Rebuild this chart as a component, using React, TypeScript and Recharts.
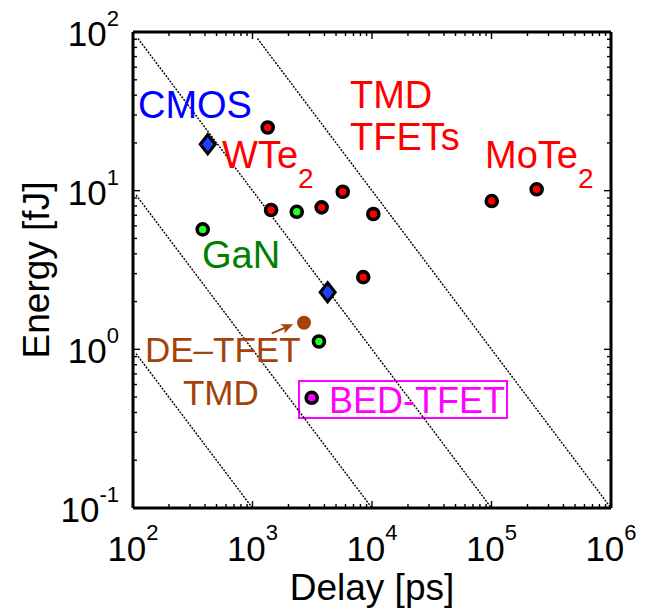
import React from 'react';
import { ScatterChart, Scatter, XAxis, YAxis, ReferenceLine, ReferenceArea } from 'recharts';

const FONT = '"Liberation Sans", Arial, Helvetica, sans-serif';
const W = 655;
const H = 612;

const RED = '#ff0000';
const GREEN_DOT = '#22ff22';
const GREEN_TEXT = '#008000';
const BLUE = '#0000ff';
const BLUE_DIAMOND = '#1f3fff';
const BROWN = '#a3420c';
const MAGENTA = '#ff00ff';

// axis ticks (decades + log minor ticks)
const delayDecades = [100, 1000, 10000, 100000, 1000000];
const energyDecades = [0.1, 1, 10, 100];
const minorMantissas = [2, 3, 4, 5, 6, 7, 8, 9];

// TMD TFETs (WTe2 / MoTe2)
const tmdDelay = [1340, 1430, 3790, 5690, 10260, 8450, 100500, 238700];
const tmdEnergy = [25, 7.55, 7.85, 9.84, 7.13, 2.85, 8.6, 10.2];

// GaN
const ganDelay = [383, 2345, 3597];
const ganEnergy = [5.7, 7.36, 1.12];

// CMOS
const cmosDelay = [422, 4256];
const cmosEnergy = [19.6, 2.29];

// DE-TFET TMD
const deDelay = [2698];
const deEnergy = [1.47];

// BED-TFET
const bedDelay = [3127];
const bedEnergy = [0.495];

// constant energy-delay product guide lines (start / end points)
const edpStartDelay = [106, 106, 110, 1100];
const edpStartEnergy = [0.94, 9.4, 91, 91];
const edpEndDelay = [1000, 10000, 100000, 1000000];
const edpEndEnergy = [0.1, 0.1, 0.1, 0.1];

// text annotations, anchored at left/baseline in data coordinates
const labels = [
  { x: 110, y: 28.6, text: 'CMOS', color: BLUE, size: 38 },
  { x: 556, y: 13.9, text: 'WTe', sub: '2', color: RED, size: 38 },
  { x: 6540, y: 33.1, text: 'TMD', color: RED, size: 38 },
  { x: 6540, y: 18.0, text: 'TFETs', color: RED, size: 38 },
  { x: 88300, y: 13.9, text: 'MoTe', sub: '2', color: RED, size: 38 },
  { x: 378, y: 3.25, text: 'GaN', color: GREEN_TEXT, size: 38 },
  { x: 126, y: 0.832, text: 'DE\u2013TFET', color: BROWN, size: 35 },
  { x: 262, y: 0.446, text: 'TMD', color: BROWN, size: 35 },
  { x: 4365, y: 0.397, text: 'BED-TFET', color: MAGENTA, size: 36 },
];

const zip = (xs: number[], ys: number[]) => xs.map((x, i) => ({ x, y: ys[i] }));

const withMinor = (decades: number[]) => {
  const out: number[] = [];
  decades.forEach((d, i) => {
    out.push(d);
    if (i < decades.length - 1) minorMantissas.forEach((m) => out.push(d * m));
  });
  return out;
};

const delayTicks = withMinor(delayDecades);
const energyTicks = withMinor(energyDecades);

const isMajor = (v: number) => Math.abs(Math.log10(v) - Math.round(Math.log10(v))) < 1e-6;
const expOf = (v: number) => Math.round(Math.log10(v));

const MAJOR = 7;
const MINOR = 4;

function BottomTick({ x, y, payload }: any) {
  const v = payload.value;
  const major = isMajor(v);
  return (
    <g>
      <line x1={x} y1={y} x2={x} y2={y - (major ? MAJOR : MINOR)} stroke="#000" strokeWidth={1.4} />
      {major && (
        <text x={x} y={y + 53} textAnchor="middle" fontFamily={FONT} fontSize={35} fill="#000">
          <tspan>10</tspan>
          <tspan dy={-21} fontSize={22}>{expOf(v)}</tspan>
        </text>
      )}
    </g>
  );
}

function TopTick({ x, y, payload }: any) {
  const major = isMajor(payload.value);
  return <line x1={x} y1={y} x2={x} y2={y + (major ? MAJOR : MINOR)} stroke="#000" strokeWidth={1.4} />;
}

function LeftTick({ x, y, payload }: any) {
  const v = payload.value;
  const major = isMajor(v);
  return (
    <g>
      <line x1={x} y1={y} x2={x + (major ? MAJOR : MINOR)} y2={y} stroke="#000" strokeWidth={1.4} />
      {major && (
        <text x={x - 14} y={y + 14} textAnchor="end" fontFamily={FONT} fontSize={35} fill="#000">
          <tspan>10</tspan>
          <tspan dy={-20} fontSize={22}>{expOf(v)}</tspan>
        </text>
      )}
    </g>
  );
}

function RightTick({ x, y, payload }: any) {
  const major = isMajor(payload.value);
  return <line x1={x} y1={y} x2={x - (major ? MAJOR : MINOR)} y2={y} stroke="#000" strokeWidth={1.4} />;
}

const ringDot = (fill: string) => (p: any) =>
  <circle cx={p.cx} cy={p.cy} r={5.5} fill={fill} stroke="#000" strokeWidth={3.6} />;

const diamond = (p: any) => (
  <path
    d={`M${p.cx},${p.cy - 9.5} L${p.cx + 7.5},${p.cy} L${p.cx},${p.cy + 9.5} L${p.cx - 7.5},${p.cy} Z`}
    fill={BLUE_DIAMOND}
    stroke="#000"
    strokeWidth={3}
  />
);

const brownDot = (p: any) => <circle cx={p.cx} cy={p.cy} r={7} fill={BROWN} />;

const labelShape = (p: any) => {
  const d = p.payload;
  return (
    <text x={p.cx} y={p.cy} fontFamily={FONT} fontSize={d.size} fill={d.color}>
      <tspan>{d.text}</tspan>
      {d.sub && <tspan dy={20} fontSize={28}>{d.sub}</tspan>}
    </text>
  );
};

const Arrow = (p: any) => {
  const { x1, y1, x2, y2 } = p;
  const a = Math.atan2(y2 - y1, x2 - x1);
  const L = 12;
  const hw = 5;
  const bx = x2 - L * Math.cos(a);
  const by = y2 - L * Math.sin(a);
  const nx = -Math.sin(a) * hw;
  const ny = Math.cos(a) * hw;
  const ix = bx + 3 * Math.cos(a);
  const iy = by + 3 * Math.sin(a);
  return (
    <g>
      <line x1={x1} y1={y1} x2={ix} y2={iy} stroke={BROWN} strokeWidth={2} />
      <path d={`M${x2},${y2} L${bx + nx},${by + ny} L${ix},${iy} L${bx - nx},${by - ny} Z`} fill={BROWN} />
    </g>
  );
};

const axisLine = { stroke: '#000', strokeWidth: 3 };

export default function App() {
  return (
    <div style={{ position: 'absolute', left: 0, top: 0, width: W, height: H, background: '#fff' }}>
      <ScatterChart width={W} height={H} margin={{ top: 0, right: 0, bottom: 0, left: 0 }}>
        <XAxis
          xAxisId="b"
          dataKey="x"
          type="number"
          scale="log"
          domain={[100, 1000000]}
          allowDataOverflow
          ticks={delayTicks}
          interval={0}
          tick={(p: any) => <BottomTick {...p} />}
          tickLine={false}
          tickSize={0}
          tickMargin={0}
          axisLine={axisLine}
          height={104}
          label={{
            content: (lp: any) => {
              const vb = lp.viewBox;
              return (
                <text x={vb.x + vb.width / 2} y={vb.y + 92} textAnchor="middle" fontFamily={FONT} fontSize={37} fill="#000">
                  Delay [ps]
                </text>
              );
            },
          }}
        />
        <XAxis
          xAxisId="t"
          orientation="top"
          dataKey="x"
          type="number"
          scale="log"
          domain={[100, 1000000]}
          allowDataOverflow
          ticks={delayTicks}
          interval={0}
          tick={(p: any) => <TopTick {...p} />}
          tickLine={false}
          tickSize={0}
          tickMargin={0}
          axisLine={axisLine}
          height={32}
        />
        <YAxis
          yAxisId="l"
          dataKey="y"
          type="number"
          scale="log"
          domain={[0.1, 100]}
          allowDataOverflow
          ticks={energyTicks}
          interval={0}
          tick={(p: any) => <LeftTick {...p} />}
          tickLine={false}
          tickSize={0}
          tickMargin={0}
          axisLine={axisLine}
          width={133}
          label={{
            content: (lp: any) => {
              const vb = lp.viewBox;
              const cx = vb.x + 49;
              const cy = vb.y + vb.height / 2;
              return (
                <text x={cx} y={cy} transform={`rotate(-90 ${cx} ${cy})`} textAnchor="middle" fontFamily={FONT} fontSize={37} fill="#000">
                  Energy [fJ]
                </text>
              );
            },
          }}
        />
        <YAxis
          yAxisId="r"
          orientation="right"
          dataKey="y"
          type="number"
          scale="log"
          domain={[0.1, 100]}
          allowDataOverflow
          ticks={energyTicks}
          interval={0}
          tick={(p: any) => <RightTick {...p} />}
          tickLine={false}
          tickSize={0}
          tickMargin={0}
          axisLine={axisLine}
          width={44}
        />

        {edpStartDelay.map((d, i) => (
          <Scatter
            key={`edp${i}`}
            xAxisId="b"
            yAxisId="l"
            data={[
              { x: d, y: edpStartEnergy[i] },
              { x: edpEndDelay[i], y: edpEndEnergy[i] },
            ]}
            line={{ stroke: '#000', strokeWidth: 1.4, strokeDasharray: '2 1.3' }}
            shape={() => <g />}
            isAnimationActive={false}
          />
        ))}

        <ReferenceArea
          xAxisId="b"
          yAxisId="l"
          x1={2449}
          x2={134900}
          y1={0.369}
          y2={0.631}
          fill="none"
          stroke={MAGENTA}
          strokeWidth={2}
          ifOverflow="visible"
        />
        <ReferenceLine
          xAxisId="b"
          yAxisId="l"
          segment={[
            { x: 1449, y: 1.26 },
            { x: 2193, y: 1.44 },
          ]}
          shape={(p: any) => <Arrow {...p} />}
          ifOverflow="visible"
        />

        <Scatter xAxisId="b" yAxisId="l" data={zip(tmdDelay, tmdEnergy)} shape={ringDot(RED)} isAnimationActive={false} />
        <Scatter xAxisId="b" yAxisId="l" data={zip(ganDelay, ganEnergy)} shape={ringDot(GREEN_DOT)} isAnimationActive={false} />
        <Scatter xAxisId="b" yAxisId="l" data={zip(cmosDelay, cmosEnergy)} shape={diamond} isAnimationActive={false} />
        <Scatter xAxisId="b" yAxisId="l" data={zip(deDelay, deEnergy)} shape={brownDot} isAnimationActive={false} />
        <Scatter xAxisId="b" yAxisId="l" data={zip(bedDelay, bedEnergy)} shape={ringDot(MAGENTA)} isAnimationActive={false} />
        <Scatter xAxisId="b" yAxisId="l" data={labels} shape={labelShape} isAnimationActive={false} />
      </ScatterChart>
    </div>
  );
}
